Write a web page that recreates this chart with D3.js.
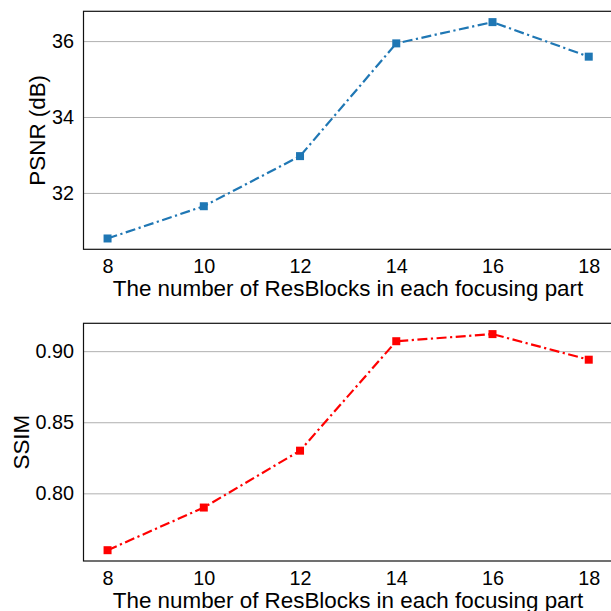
<!DOCTYPE html>
<html>
<head>
<meta charset="utf-8">
<script src="https://cdn.jsdelivr.net/npm/d3@7"></script>
<style>
  html, body { margin: 0; padding: 0; background: #fff; }
  svg { display: block; }
  text { font-family: "Liberation Sans", Arial, sans-serif; fill: #000; }
</style>
</head>
<body>
<svg id="chart" width="611" height="611"></svg>
<script>
// Number of ResBlocks per focusing part
const blocks = [8, 10, 12, 14, 16, 18];
// Reconstruction quality for each setting
const psnr = [30.80, 31.65, 32.97, 35.94, 36.50, 35.59];
const ssim = [0.760, 0.790, 0.830, 0.907, 0.912, 0.894];
// Tick labels
const xTicks = [8, 10, 12, 14, 16, 18];
const psnrTicks = [32, 34, 36];
const ssimTicks = [0.80, 0.85, 0.90];

const xLabel = "The number of ResBlocks in each focusing part";

const svg = d3.select("#chart");
const left = 83.5, right = 612.8;
const tickFont = "19.8px", titleFont = "22.4px";

// pad a domain by 5% on each side
function padded(vals) {
  const [lo, hi] = d3.extent(vals);
  const m = (hi - lo) * 0.05;
  return [lo - m, hi + m];
}

const x = d3.scaleLinear().domain(padded(blocks)).range([left, right]);

const panels = [
  { values: psnr, ticks: psnrTicks, fmt: d3.format("d"), label: "PSNR (dB)",
    color: "#1f77b4", top: 11.3, bottom: 249.3, labelX: 45 },
  { values: ssim, ticks: ssimTicks, fmt: d3.format(".2f"), label: "SSIM",
    color: "#ff0000", top: 323.3, bottom: 561, labelX: 28.5 }
];

panels.forEach(p => {
  const y = d3.scaleLinear().domain(padded(p.values)).range([p.bottom, p.top]);
  const g = svg.append("g");

  // horizontal grid
  g.append("g")
    .attr("transform", `translate(${left},0)`)
    .call(d3.axisLeft(y).tickValues(p.ticks).tickSize(-(right - left)).tickFormat(""))
    .call(a => a.select(".domain").remove())
    .call(a => a.selectAll("line").attr("stroke", "#b0b0b0").attr("stroke-width", 1));

  // y axis labels
  g.append("g")
    .attr("transform", `translate(${left},0)`)
    .call(d3.axisLeft(y).tickValues(p.ticks).tickFormat(p.fmt).tickSize(0).tickPadding(9.5))
    .call(a => a.select(".domain").remove())
    .call(a => a.selectAll("text")
      .attr("font-size", tickFont)
      .attr("font-family", "Liberation Sans, Arial, sans-serif")
      .attr("fill", "#000"));

  // x axis labels
  g.append("g")
    .attr("transform", `translate(0,${p.bottom})`)
    .call(d3.axisBottom(x).tickValues(xTicks).tickFormat(d3.format("d")).tickSize(0).tickPadding(10))
    .call(a => a.select(".domain").remove())
    .call(a => a.selectAll("text")
      .attr("font-size", tickFont)
      .attr("font-family", "Liberation Sans, Arial, sans-serif")
      .attr("fill", "#000"));

  // frame
  g.append("rect")
    .attr("x", left).attr("y", p.top)
    .attr("width", right - left).attr("height", p.bottom - p.top)
    .attr("fill", "none").attr("stroke", "#111").attr("stroke-width", 1.2);

  // line
  const line = d3.line().x((d, i) => x(blocks[i])).y(d => y(d));
  g.append("path")
    .datum(p.values)
    .attr("d", line)
    .attr("fill", "none")
    .attr("stroke", p.color)
    .attr("stroke-width", 2.2)
    .attr("stroke-dasharray", "10,3.5,2.2,3.5");

  // square markers
  const ms = 8;
  g.selectAll("rect.mk")
    .data(p.values)
    .join("rect")
    .attr("class", "mk")
    .attr("x", (d, i) => x(blocks[i]) - ms / 2)
    .attr("y", d => y(d) - ms / 2)
    .attr("width", ms).attr("height", ms)
    .attr("fill", p.color);

  // axis titles
  g.append("text")
    .attr("x", 348)
    .attr("y", p.bottom + 46.5)
    .attr("text-anchor", "middle")
    .attr("font-size", titleFont)
    .text(xLabel);

  g.append("text")
    .attr("transform", `translate(${p.labelX},${(p.top + p.bottom) / 2}) rotate(-90)`)
    .attr("text-anchor", "middle")
    .attr("font-size", titleFont)
    .text(p.label);
});
</script>
</body>
</html>
